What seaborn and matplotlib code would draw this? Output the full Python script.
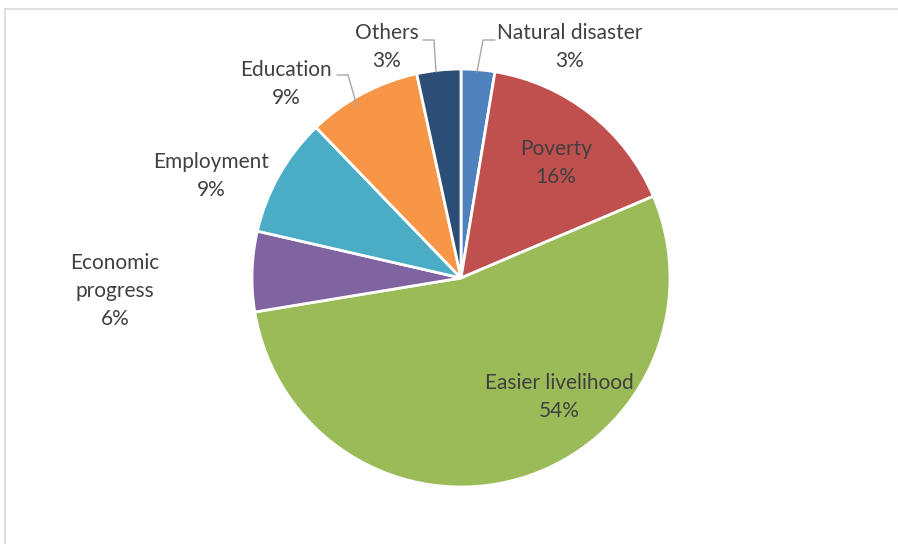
import matplotlib
matplotlib.use("Agg")
import matplotlib.pyplot as plt
import seaborn as sns

sns.set_theme(style="white")
plt.rcParams['font.family'] = ['Lato', 'DejaVu Sans']

categories = ["Natural disaster", "Poverty", "Easier livelihood", "Economic progress",
              "Employment", "Education", "Others"]
label_names = ["Natural disaster", "Poverty", "Easier livelihood", "Economic\nprogress",
               "Employment", "Education", "Others"]
values = [2.6, 16.0, 53.8, 6.2, 9.2, 8.8, 3.4]
colors = ["#4F81BD", "#C0504D", "#9BBB59", "#8064A2", "#4BACC6", "#F79646", "#2C4D75"]

W, H = 898, 544
CX, CY, R = 461, 278, 209

fig = plt.figure(figsize=(W / 100, H / 100), dpi=100)
ax = fig.add_axes([0, 0, 1, 1])

ax.pie(values, colors=colors, startangle=90, counterclock=False, radius=1.0,
       wedgeprops=dict(edgecolor="white", linewidth=2))

ax.set_xlim(-CX / R, (W - CX) / R)
ax.set_ylim(-(H - CY) / R, CY / R)
ax.set_aspect("equal")
ax.axis("off")

def P(px, py):
    return ((px - CX) / R, (CY - py) / R)

# label layout (pixel centers of text blocks)
label_pos = {
    "Natural disaster": (570, 47),
    "Poverty": (556, 163),
    "Easier livelihood": (559, 397),
    "Economic progress": (115, 291),
    "Employment": (211, 176),
    "Education": (286, 84),
    "Others": (387, 47),
}
text_color = "#404040"
for name, lab, v in zip(categories, label_names, values):
    x, y = P(*label_pos[name])
    ax.text(x, y, f"{lab}\n{round(v)}%", ha="center", va="center",
            fontsize=15, color=text_color, linespacing=1.52)

# leader lines
leaders = [
    [(477, 72), (483, 40), (495, 40)],
    [(436, 72), (434, 40), (423, 40)],
    [(357, 106), (348, 75), (337, 75)],
]
for pts in leaders:
    xs, ys = zip(*[P(*p) for p in pts])
    ax.plot(xs, ys, color="#A6A6A6", linewidth=1)

# chart frame (top and left edges visible)
fig.add_artist(plt.Line2D([5 / W, 1], [1 - 9 / H, 1 - 9 / H], color="#D9D9D9", linewidth=1.2))
fig.add_artist(plt.Line2D([5 / W, 5 / W], [0, 1 - 9 / H], color="#D9D9D9", linewidth=1.2))

fig.savefig("out.png", dpi=100)
